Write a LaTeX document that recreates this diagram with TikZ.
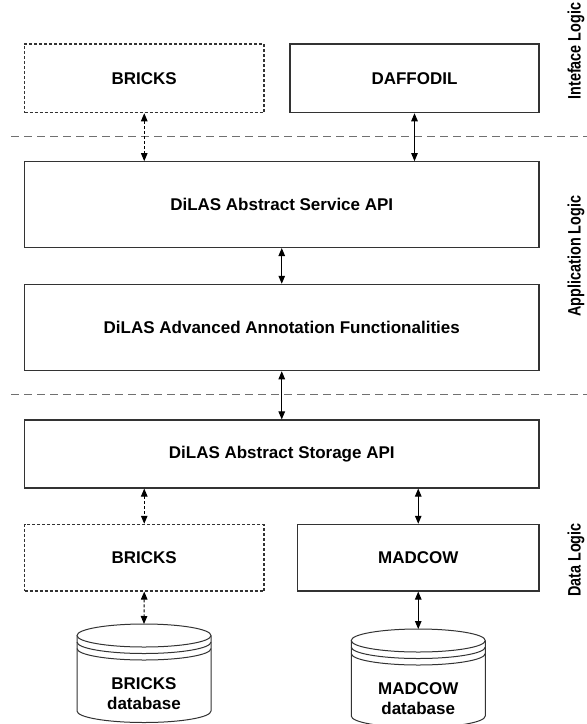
\documentclass[tikz,border=0pt]{standalone}
\usepackage{fontspec}
\setmainfont{Liberation Sans}
\usepackage{graphicx}
\usetikzlibrary{arrows.meta}
\definecolor{linec}{HTML}{333333}
\definecolor{sepc}{HTML}{707070}
\tikzset{
  txt/.style={font=\fontsize{17}{20}\selectfont\bfseries, align=center},
  box/.style={txt, draw=linec, line width=1.1pt, inner sep=0pt},
  dbox/.style={box, dash pattern=on 3pt off 2pt},
  link/.style={draw=black, line width=1pt, {Triangle[length=8pt,width=6.5pt]}-{Triangle[length=8pt,width=6.5pt]}},
  dlink/.style={link, dash pattern=on 3pt off 2pt},
  sep/.style={draw=sepc, line width=1.2pt, dash pattern=on 8pt off 5pt},
  side/.style={rotate=90, font=\fontsize{18}{20}\selectfont\bfseries},
  cyl/.style={draw=linec, line width=1pt},
}
\newcommand\mydb[5]{% cx, ytop, name, text, ybottom-center
  \coordinate (#3top) at (#1,#2);
  \draw[cyl] (#1,#2+11.5) ellipse[x radius=67pt, y radius=11.5pt];
  \draw[cyl] (#1-67,#2+18) arc[start angle=180, end angle=360, x radius=67pt, y radius=11.5pt];
  \draw[cyl] (#1-67,#2+24.5) arc[start angle=180, end angle=360, x radius=67pt, y radius=11.5pt];
  \draw[cyl] (#1-67,#2+11.5) -- (#1-67,#5) arc[start angle=180, end angle=360, x radius=67pt, y radius=11.5pt] -- (#1+67,#2+11.5);
  \node[txt] (#3) at (#1,#2+70) {#4};
}
\begin{document}
\begin{tikzpicture}[x=1pt,y=-1pt]
\useasboundingbox (0,0) rectangle (587,724);
% separators
\draw[sep] (11,136.7) -- (587,136.7);
\draw[sep] (11,394.3) -- (587,394.3);
% boxes
\node[dbox, minimum width=239.5pt, minimum height=68.7pt] (bricksTop) at (144.25,78.35) {BRICKS};
\node[box, minimum width=249pt, minimum height=68.7pt] (daffodil) at (414.5,78.35) {DAFFODIL};
\node[box, minimum width=514.5pt, minimum height=85.8pt] (service) at (281.75,204.6) {DiLAS Abstract Service API};
\node[box, minimum width=514.5pt, minimum height=86.4pt] (advanced) at (281.75,327.5) {DiLAS Advanced Annotation Functionalities};
\node[box, minimum width=514.5pt, minimum height=68pt] (storage) at (281.75,454) {DiLAS Abstract Storage API};
\node[dbox, minimum width=239.5pt, minimum height=66.7pt] (bricksBot) at (144.25,557.65) {BRICKS};
\node[box, minimum width=241.5pt, minimum height=66.7pt] (madcow) at (418.25,557.65) {MADCOW};
% databases
\mydb{144}{624}{bricksDB}{BRICKS\\database}{711}
\mydb{418.25}{629}{madcowDB}{MADCOW\\database}{716}
% side labels
\node[side] (lblIf) at (576,51) {\scalebox{0.8}[1]{Inteface Logic}};
\node[side] (lblApp) at (576,256) {\scalebox{0.8}[1]{Application Logic}};
\node[side] (lblData) at (576,560) {\scalebox{0.8}[1]{Data Logic}};
% connectors
\draw[dlink] (bricksTop.south) -- (service.north -| bricksTop.south);
\draw[link] (daffodil.south) -- (service.north -| daffodil.south);
\draw[link] (service.south) -- (advanced.north);
\draw[link] (advanced.south) -- (storage.north);
\draw[dlink] (storage.south -| bricksBot.north) -- (bricksBot.north);
\draw[link] (storage.south -| madcow.north) -- (madcow.north);
\draw[dlink] (bricksBot.south) -- (bricksDBtop);
\draw[link] (madcow.south) -- (madcowDBtop);
\end{tikzpicture}
\end{document}
